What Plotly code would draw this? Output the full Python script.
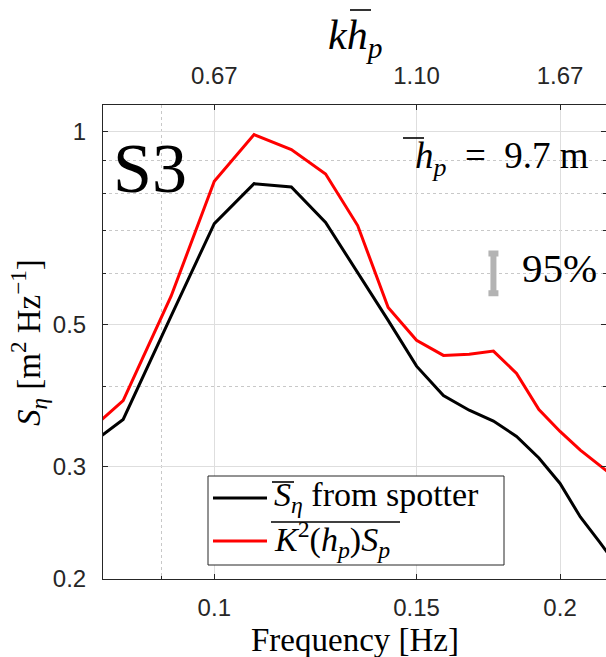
import plotly.graph_objects as go
import math

# ---------------- data ----------------
freq = [0.0750, 0.0833, 0.0917, 0.1000, 0.1083, 0.1167, 0.1250, 0.1333, 0.1417,
        0.1500, 0.1583, 0.1667, 0.1750, 0.1833, 0.1917, 0.2000, 0.2083, 0.2167, 0.2250]
s_spotter = [0.308, 0.355, 0.515, 0.718, 0.829, 0.819, 0.721, 0.603, 0.507,
             0.430, 0.387, 0.367, 0.353, 0.334, 0.309, 0.282, 0.250, 0.228, 0.208]
k2_sp = [0.321, 0.380, 0.553, 0.836, 0.989, 0.937, 0.858, 0.713, 0.531,
         0.472, 0.447, 0.449, 0.454, 0.419, 0.368, 0.340, 0.318, 0.301, 0.285]

x_ticks = [0.1, 0.15, 0.2]
x_ticklabels = ["0.1", "0.15", "0.2"]
top_ticks = [0.1, 0.15, 0.2]
top_ticklabels = ["0.67", "1.10", "1.67"]
y_ticks = [0.2, 0.3, 0.5, 1.0]
y_ticklabels = ["0.2", "0.3", "0.5", "1"]
x_minor = [0.08, 0.09]
y_minor = [0.4, 0.6, 0.7, 0.8, 0.9]

ci_freq = [0.175]
ci_center = [0.600]
ci_plus = [0.045]
ci_minus = [0.041]

x_range = [0.08, 0.2193]
y_range = [0.2, 1.1]

# ---------------- layout geometry ----------------
W, H = 606, 657
ML, MR, MT, MB = 103, 0, 105, 78
PW, PH = W - ML - MR, H - MT - MB


def px(x):
    return (x - ML) / PW


def py(y):
    return (H - MB - y) / PH


AX = "#262626"
SERIF = "Liberation Serif"
SANS = "Liberation Sans"

fig = go.Figure()
fig.add_trace(go.Scatter(x=freq, y=s_spotter, mode="lines",
                         line=dict(color="#000000", width=3),
                         name="S from spotter", showlegend=False))
fig.add_trace(go.Scatter(x=freq, y=k2_sp, mode="lines",
                         line=dict(color="#ff0000", width=3),
                         name="K2 Sp", showlegend=False))
fig.add_trace(go.Scatter(x=ci_freq, y=ci_center, mode="markers",
                         marker=dict(size=1, color="rgba(0,0,0,0)"),
                         error_y=dict(type="data", symmetric=False, array=ci_plus,
                                      arrayminus=ci_minus, color="#b3b3b3",
                                      thickness=6, width=5),
                         showlegend=False, hoverinfo="skip"))
# invisible trace for the top axis
fig.add_trace(go.Scatter(x=[x_ticks[0]], y=[y_ticks[-1]], xaxis="x2", mode="markers",
                         marker=dict(size=1, color="rgba(0,0,0,0)"),
                         showlegend=False, hoverinfo="skip"))

lr = [math.log10(v) for v in x_range]
yr = [math.log10(v) for v in y_range]

fig.update_layout(
    width=W, height=H,
    margin=dict(l=ML, r=MR, t=MT, b=MB, pad=0),
    paper_bgcolor="white", plot_bgcolor="white",
    xaxis=dict(type="log", range=lr, tickmode="array", tickvals=x_ticks,
               ticktext=x_ticklabels, ticks="inside", ticklen=5, tickcolor=AX,
               showline=True, linecolor=AX, linewidth=1, mirror=False,
               showgrid=True, gridcolor="#dedede", gridwidth=1,
               tickfont=dict(family=SANS, size=24, color=AX),
               ticklabelstandoff=7, zeroline=False,
               minor=dict(tickmode="array", tickvals=x_minor, showgrid=True,
                          gridcolor="#c8c8c8", griddash="dot", gridwidth=1,
                          ticks="inside", ticklen=3, tickcolor=AX)),
    xaxis2=dict(type="log", range=lr, overlaying="x", side="top", anchor="y",
                tickmode="array", tickvals=top_ticks, ticktext=top_ticklabels,
                ticks="inside", ticklen=5, tickcolor=AX,
                showline=True, linecolor=AX, linewidth=1, showgrid=False,
                tickfont=dict(family=SANS, size=24, color=AX),
                ticklabelstandoff=10, zeroline=False),
    yaxis=dict(type="log", range=yr, tickmode="array", tickvals=y_ticks,
               ticktext=y_ticklabels, ticks="inside", ticklen=5, tickcolor=AX,
               showline=True, linecolor=AX, linewidth=1, mirror="ticks",
               showgrid=True, gridcolor="#dedede", gridwidth=1,
               tickfont=dict(family=SANS, size=24, color=AX),
               ticklabelstandoff=11, zeroline=False,
               minor=dict(tickmode="array", tickvals=y_minor, showgrid=True,
                          gridcolor="#c8c8c8", griddash="dot", gridwidth=1,
                          ticks="inside", ticklen=3, tickcolor=AX)),
    showlegend=False,
)

ann = []


def add_text(text, x, y, size, xanchor="left", yanchor="middle", angle=0, font=SERIF):
    ann.append(dict(text=text, x=px(x), y=py(y), xref="paper", yref="paper",
                    xanchor=xanchor, yanchor=yanchor, showarrow=False,
                    textangle=angle, font=dict(family=font, size=size, color="#000000")))


# titles
add_text("<i>k</i><i>h</i><sub><i>p</i></sub>", 355, 38, 42, xanchor="center")
add_text("Frequency [Hz]", 355, 640, 33, xanchor="center")
add_text("<i>S</i><sub><i>η</i></sub> [m<sup>2</sup> Hz<sup>−1</sup>]", 28, 343, 33,
         xanchor="center", angle=-90)
# in-plot labels
add_text("S3", 111, 168, 70)
add_text("<i>h</i><sub><i>p</i></sub>  =  9.7 m", 591, 158, 37, xanchor="right")
add_text("95%", 520, 268, 41)
# legend texts
add_text("<i>S</i><sub><i>η</i></sub> from spotter", 272, 497, 34)
add_text("<i>K</i><sup>2</sup>(<i>h</i><sub><i>p</i></sub>)<i>S</i><sub><i>p</i></sub>", 272, 539, 34)
fig.update_layout(annotations=ann)

shapes = []
# legend box
shapes.append(dict(type="rect", xref="paper", yref="paper", x0=px(208), x1=px(504),
                   y0=py(565), y1=py(476), line=dict(color=AX, width=1),
                   fillcolor="white", layer="above"))
shapes.append(dict(type="line", xref="paper", yref="paper", x0=px(213), x1=px(267),
                   y0=py(498), y1=py(498), line=dict(color="#000000", width=3)))
shapes.append(dict(type="line", xref="paper", yref="paper", x0=px(213), x1=px(267),
                   y0=py(541), y1=py(541), line=dict(color="#ff0000", width=3)))


def overline(x0, x1, y, w=1.6):
    shapes.append(dict(type="line", xref="paper", yref="paper", x0=px(x0), x1=px(x1),
                       y0=py(y), y1=py(y), line=dict(color="#000000", width=w)))


overline(272, 294, 482)       # S-bar in legend
overline(271, 400, 522)       # K^2(h_p)S_p bar
overline(403, 424, 138)       # h-bar in annotation
overline(350, 371, 10)        # h-bar in top title
fig.update_layout(shapes=shapes)

fig.write_html("out.html")
